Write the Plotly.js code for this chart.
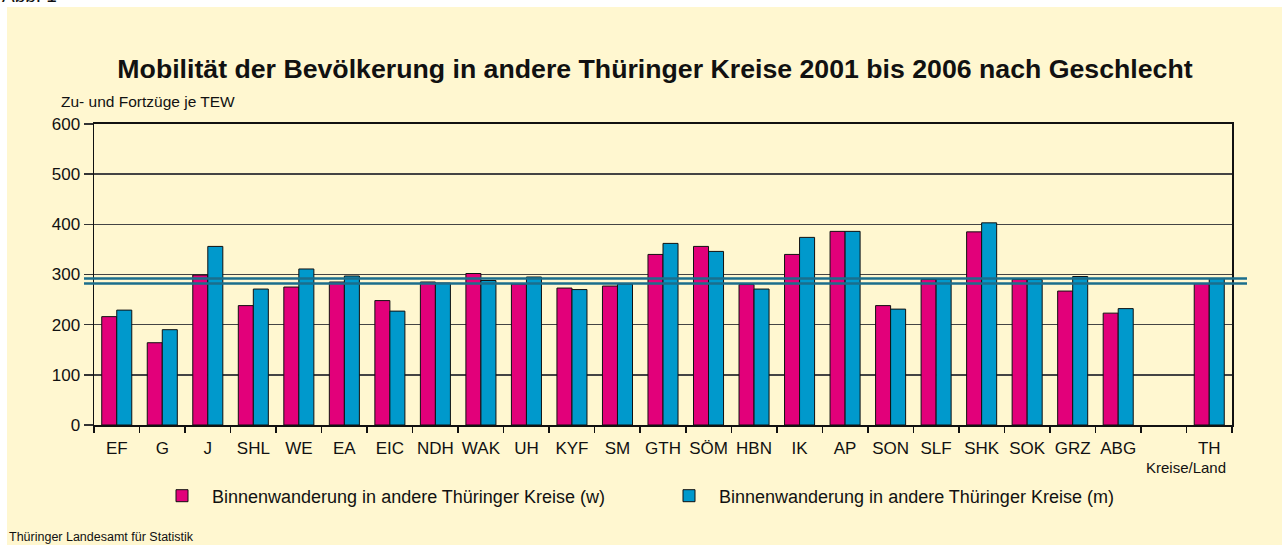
<!DOCTYPE html>
<html>
<head>
<meta charset="utf-8">
<script src="https://cdn.plot.ly/plotly-3.0.1.min.js"></script>
<style>
html,body{margin:0;padding:0;background:#ffffff;}
#chart{width:1282px;height:545px;}
</style>
</head>
<body>
<div id="chart"></div>
<script>
// ---- data ----
const categories = ["EF","G","J","SHL","WE","EA","EIC","NDH","WAK","UH","KYF","SM","GTH","SÖM","HBN","IK","AP","SON","SLF","SHK","SOK","GRZ","ABG"," ","TH"];
const womenValues = [216,164,299,238,275,285,248,285,302,281,273,277,340,356,280,340,386,238,290,385,290,267,223,null,282];
const menValues   = [229,190,356,271,311,297,227,283,288,295,270,281,362,346,271,374,386,231,291,403,290,296,232,null,292];
const seriesNames = ["Binnenwanderung in andere Thüringer Kreise (w)","Binnenwanderung in andere Thüringer Kreise (m)"];
const yTickValues = [0,100,200,300,400,500,600];
const thuringiaW = womenValues[womenValues.length-1];
const thuringiaM = menValues[menValues.length-1];

// ---- layout constants (pixels) ----
const W = 1282, H = 545;
const mL = 94, mR = 50, mT = 124, mB = 120;
const pw = W - mL - mR, ph = H - mT - mB;
const px = x => (x - mL) / pw;          // page x -> paper x
const py = y => (H - mB - y) / ph;      // page y -> paper y

const FONT = "Liberation Sans, Arial, Helvetica, sans-serif";

const traces = [
  {type:"bar", name:seriesNames[0], x:categories, y:womenValues,
   marker:{color:"#e2007a", line:{color:"#111111", width:1}}},
  {type:"bar", name:seriesNames[1], x:categories, y:menValues,
   marker:{color:"#0099cc", line:{color:"#111111", width:1}}}
];

const layout = {
  width:W, height:H,
  margin:{l:mL, r:mR, t:mT, b:mB, pad:0},
  paper_bgcolor:"#ffffff",
  plot_bgcolor:"#fffdec",
  font:{family:FONT, color:"#111111"},
  barmode:"group", bargap:0.34, bargroupgap:0,
  showlegend:true,
  legend:{orientation:"h", x:px(152), xanchor:"left", y:py(496), yanchor:"middle",
          font:{size:18, family:FONT, color:"#111111"}, bgcolor:"rgba(0,0,0,0)",
          itemwidth:50, entrywidth:442, entrywidthmode:"pixels", traceorder:"normal"},
  title:{text:"<b>Mobilität der Bevölkerung in andere Thüringer Kreise 2001 bis 2006 nach Geschlecht</b>",
         font:{size:26.7, family:FONT, color:"#111111"},
         x:px(655), xref:"paper", xanchor:"center", y:1-69/H, yref:"container", yanchor:"middle"},
  xaxis:{type:"category", tickson:"boundaries", ticks:"outside", ticklen:6, tickcolor:"#111",
         tickwidth:1.5, showline:true, linecolor:"#111", linewidth:2, mirror:true, tickangle:0,
         ticklabelstandoff:7,
         showgrid:false, tickfont:{size:17, family:FONT, color:"#111"}, fixedrange:true},
  yaxis:{range:[0,600], tickvals:yTickValues, ticks:"outside", ticklen:9, tickcolor:"#333",
         tickwidth:1.5, showline:true, linecolor:"#111", linewidth:1.5, mirror:true,
         showgrid:true, gridcolor:"#444444", gridwidth:1.5, zeroline:false,
         tickfont:{size:17, family:FONT, color:"#111"}, fixedrange:true},
  shapes:[
    {type:"rect", xref:"paper", yref:"paper", x0:px(7), x1:px(W+2), y0:py(7), y1:py(H+2),
     fillcolor:"#fff7d0", line:{width:0}, layer:"below"},
    {type:"line", xref:"paper", yref:"y", x0:px(84), x1:px(1247), y0:thuringiaM, y1:thuringiaM,
     line:{color:"#1b6e8c", width:2.5}, layer:"above"},
    {type:"line", xref:"paper", yref:"y", x0:px(84), x1:px(1247), y0:thuringiaW, y1:thuringiaW,
     line:{color:"#1b6e8c", width:2.5}, layer:"above"}
  ],
  annotations:[
    {text:"Zu- und Fortzüge je TEW", xref:"paper", yref:"paper", x:px(59), y:py(101), xanchor:"left", yanchor:"middle",
     showarrow:false, font:{size:15.5, family:FONT, color:"#111"}},
    {text:"Kreise/Land", xref:"paper", yref:"paper", x:px(1228), y:py(467), xanchor:"right", yanchor:"middle",
     showarrow:false, font:{size:15, family:FONT, color:"#111"}},
    {text:"Thüringer Landesamt für Statistik", xref:"paper", yref:"paper", x:px(7), y:py(537), xanchor:"left", yanchor:"middle",
     showarrow:false, font:{size:12.5, family:FONT, color:"#111"}},
    {text:"Abb. 1", xref:"paper", yref:"paper", x:px(0), y:py(-5), xanchor:"left", yanchor:"middle",
     showarrow:false, font:{size:19, family:FONT, color:"#111"}}
  ]
};

Plotly.newPlot("chart", traces, layout, {displayModeBar:false, staticPlot:true});
</script>
</body>
</html>
